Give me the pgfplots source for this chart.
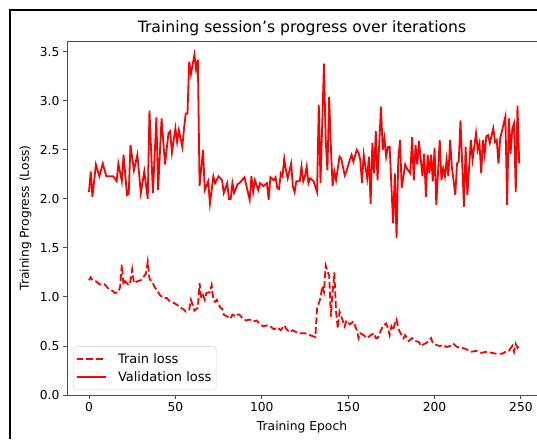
\documentclass[border=0pt]{standalone}
\usepackage{pgfplots}
\pgfplotsset{compat=1.18}
\usepackage{fontspec}
\setmainfont{DejaVu Sans}

\newcommand{\lbl}{\fontsize{12.3}{14}\selectfont}

\begin{document}
\begin{tikzpicture}
\fill[white] (-5pt,-5pt) rectangle (545pt,445pt);
% screenshot frame
\draw[line width=2pt, black] (9.8pt,0) -- (9.8pt,428.7pt) -- (540pt,428.7pt);

\begin{axis}[
    at={(67pt,44pt)}, anchor=south west,
    scale only axis,
    width=470pt, height=354pt,
    xmin=-12.73, xmax=259.3,
    ymin=0, ymax=3.61,
    axis lines*=left,
    xtick={0,50,100,150,200,250},
    ytick={0,0.5,1,1.5,2,2.5,3,3.5},
    yticklabel style={/pgf/number format/.cd, fixed, fixed zerofill, precision=1},
    /pgf/number format/assume math mode=true,
    tick align=outside,
    major tick length=4pt,
    axis line style={black!70, line width=0.9pt},
    every tick/.style={black!70, line width=0.9pt},
    tick label style={font=\lbl, text=black},
    title={Training session's progress over iterations},
    title style={font=\fontsize{15.6}{18}\selectfont, text=black,
        at={(axis description cs:0.5,1.018)}, anchor=center},
    xlabel={Training Epoch},
    ylabel={Training Progress (Loss)},
    xlabel style={font=\lbl, text=black,
        at={(axis description cs:0.5,-0.09)}, anchor=center},
    ylabel style={font=\lbl, text=black,
        at={(axis description cs:-0.0886,0.5)}, anchor=center},
    legend style={at={(axis description cs:0.0128,0.014)}, anchor=south west,
        font=\fontsize{13}{15}\selectfont, draw=black!18, rounded corners=3pt,
        row sep=2.5pt, column sep=9pt, inner xsep=2.5pt, inner ysep=5pt,
        nodes={inner xsep=2.5pt, inner ysep=2pt}},
    legend cell align=left,
]
% top spine (the right spine is cut off in the screenshot)
\draw[black!70, line width=0.9pt] (rel axis cs:0,1) -- (rel axis cs:1.02,1);

\addlegendimage{legend image code/.code={%
    \draw[red, line width=1.8pt, dash pattern=on 6.8pt off 3pt] (0pt,0pt) -- (29pt,0pt);}}
\addlegendentry{Train loss}
\addlegendimage{legend image code/.code={%
    \draw[red, line width=1.8pt] (0pt,0pt) -- (29pt,0pt);}}
\addlegendentry{Validation loss}

\addplot[red, line width=1.8pt, dash pattern=on 6.8pt off 3pt, forget plot] coordinates {
(0,1.17) (1,1.20) (2,1.17) (4,1.16) (6,1.13) (9,1.13) (11,1.09) (13,1.07)
(15,1.04) (17,1.05) (18,1.10) (19,1.33) (20,1.12) (21,1.16) (23,1.12) (24,1.16)
(25,1.28) (26,1.14) (28,1.16) (30,1.17) (31,1.19) (33,1.24) (34,1.36) (35,1.19)
(36,1.16) (37,1.14) (38,1.10) (40,1.05) (41,1.02) (43,0.99) (45,0.99) (47,0.95)
(49,0.94) (51,0.92) (53,0.89) (55,0.87) (56,0.85) (58,0.87) (59,0.97) (60,0.92)
(61,0.86) (63,0.89) (64,1.14) (65,0.99) (66,1.02) (67,0.97) (68,1.04) (70,1.05)
(71,1.12) (72,0.97) (73,0.95) (74,0.97) (76,0.89) (77,0.88) (78,0.82) (80,0.80)
(82,0.78) (83,0.82) (85,0.80) (86,0.82) (87,0.82) (89,0.78) (91,0.76) (93,0.77)
(95,0.75) (97,0.76) (99,0.72) (101,0.70) (103,0.71) (105,0.70) (107,0.67) (109,0.69)
(111,0.66) (113,0.71) (114,0.68) (116,0.64) (118,0.66) (121,0.63) (125,0.63) (128,0.61)
(131,0.59) (132,0.88) (134,0.99) (135,1.11) (136,1.05) (137,1.32) (138,1.26) (139,1.22)
(140,0.80) (141,1.05) (142,1.25) (143,0.85) (144,0.68) (145,0.85) (146,0.80) (148,0.70)
(149,0.76) (151,0.72) (153,0.75) (155,0.66) (156,0.58) (157,0.63) (159,0.61) (161,0.58)
(163,0.61) (165,0.63) (166,0.58) (167,0.58) (169,0.66) (170,0.70) (172,0.73) (173,0.68)
(174,0.61) (175,0.70) (176,0.66) (177,0.73) (178,0.77) (179,0.68) (180,0.64) (182,0.58)
(183,0.61) (185,0.55) (187,0.58) (189,0.55) (191,0.54) (192,0.50) (194,0.52) (196,0.54)
(198,0.58) (199,0.53) (201,0.51) (203,0.50) (205,0.51) (207,0.49) (209,0.50) (211,0.52)
(213,0.49) (216,0.48) (218,0.47) (221,0.44) (224,0.45) (227,0.43) (230,0.44) (233,0.43)
(236,0.42) (239,0.42) (241,0.44) (243,0.45) (245,0.50) (246,0.44) (247,0.52) (248,0.48)
(249,0.50)
};

\addplot[red, line width=1.8pt, forget plot] coordinates {
(0,2.07) (1,2.28) (2,2.02) (4,2.35) (6,2.23) (8,2.36) (10,2.23) (14,2.23)
(16,2.18) (17,2.36) (19,2.18) (20,2.45) (22,2.04) (23,2.05) (24,2.55) (26,2.29)
(28,2.45) (30,2.06) (32,2.28) (34,2.00) (35,2.90) (37,2.06) (39,2.83) (40,2.09)
(42,2.82) (44,2.35) (46,2.67) (47,2.69) (48,2.47) (50,2.72) (51,2.58) (52,2.70)
(54,2.53) (55,2.72) (56,2.87) (57,2.87) (58,3.40) (59,3.27) (61,3.47) (62,3.32)
(63,3.42) (64,2.13) (66,2.50) (67,2.09) (69,2.18) (70,1.95) (72,2.23) (73,2.16)
(75,2.23) (77,2.19) (78,2.06) (80,2.16) (81,2.00) (82,2.00) (83,2.16) (84,2.06)
(86,2.15) (87,2.16) (90,2.22) (93,1.99) (94,2.23) (95,2.07) (96,2.19) (98,2.09)
(99,2.16) (101,2.13) (103,2.16) (104,1.99) (105,2.22) (107,2.19) (108,2.22) (109,2.11)
(110,2.10) (111,2.26) (112,2.23) (113,2.41) (114,2.29) (115,2.21) (117,2.36) (118,2.13)
(119,2.07) (120,2.18) (122,2.18) (123,2.33) (124,2.18) (125,2.23) (126,2.33) (127,2.16)
(128,2.21) (130,2.18) (132,2.07) (133,2.96) (134,2.16) (136,3.38) (137,2.60) (138,2.29)
(139,3.04) (140,2.53) (141,2.13) (142,2.28) (143,2.19) (145,2.43) (146,2.41) (148,2.24)
(149,2.28) (151,2.40) (152,2.45) (153,2.38) (155,2.50) (156,2.47) (157,2.40) (158,2.16)
(159,2.45) (161,2.21) (162,2.43) (163,1.95) (164,2.57) (165,2.26) (166,2.69) (167,2.19)
(169,2.94) (170,2.50) (171,2.62) (172,2.43) (173,2.53) (174,2.53) (176,1.75) (177,2.26)
(178,1.60) (179,2.40) (180,2.60) (181,2.11) (183,2.35) (184,2.31) (186,2.26) (187,2.63)
(188,2.19) (189,2.55) (190,2.35) (191,2.59) (193,2.23) (194,2.46) (195,2.02) (196,2.45)
(197,2.26) (198,2.45) (199,2.18) (200,2.52) (201,1.94) (203,2.60) (204,2.19) (205,2.31)
(206,2.23) (207,2.40) (208,2.23) (209,2.60) (210,2.33) (212,2.04) (213,2.36) (214,2.38)
(215,2.80) (217,1.92) (218,2.53) (219,2.04) (221,2.60) (222,2.40) (224,2.67) (225,2.50)
(226,2.57) (227,2.26) (228,2.60) (229,2.45) (230,2.64) (231,2.65) (232,2.57) (234,2.72)
(235,2.58) (236,2.60) (237,2.36) (238,2.62) (239,2.69) (241,2.84) (242,1.94) (243,2.82)
(244,2.46) (245,2.72) (246,2.77) (247,2.07) (248,2.95) (249,2.36)
};

\end{axis}
% the page is the screenshot: exactly 537 x 439
\pgfresetboundingbox
\useasboundingbox (0,0) rectangle (537pt,439pt);
\end{tikzpicture}
\end{document}
